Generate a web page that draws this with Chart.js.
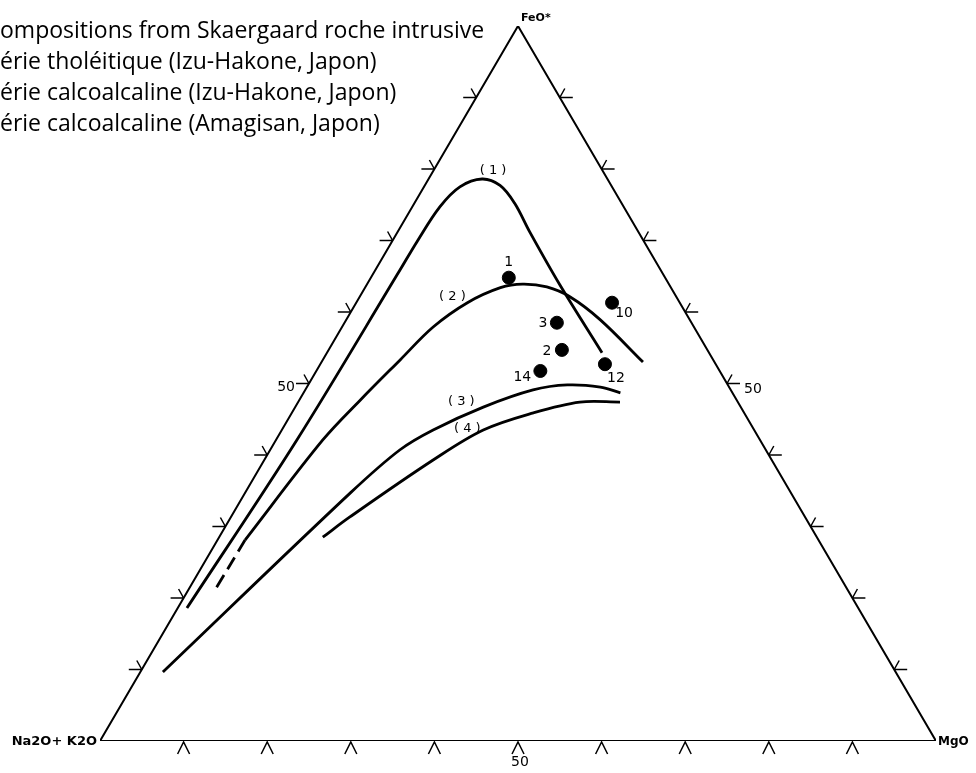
<!DOCTYPE html>
<html>
<head>
<meta charset="utf-8">
<title>AFM diagram</title>
<script src="https://cdn.jsdelivr.net/npm/chart.js@4.4.1/dist/chart.umd.min.js"></script>
<style>
  html, body { margin: 0; padding: 0; background: #fff; }
  canvas { display: block; }
</style>
</head>
<body>
<canvas id="afm" width="976" height="773"></canvas>
<script>
// AFM ternary diagram: A = Na2O+K2O (left), F = FeO* (top), M = MgO (right)
// every composition is stored as FeO* % and MgO % (alkalis = the rest)

const legendLines = [
  'Compositions from Skaergaard roche intrusive',
  'Série tholéitique (Izu-Hakone, Japon)',
  'Série calcoalcaline (Izu-Hakone, Japon)',
  'Série calcoalcaline (Amagisan, Japon)'
];

// triangle corners
const cornerFeO = [0, 100, 0, 0];
const cornerMgO = [0, 0, 100, 0];

// graduations along each side (%)
const tickValues = [10, 20, 30, 40, 50, 60, 70, 80, 90];

// (1) Skaergaard trend
const curve1FeO = [18.6, 42.1, 65.9, 69.8, 74.7, 77.5, 78.6, 77.7, 75.2, 71.2, 63.8, 54.3];
const curve1MgO = [1.1, 2.5, 2.95, 3.0, 3.3, 4.3, 6.4, 9.0, 12.0, 15.8, 23.1, 32.9];

// (2) tholeiitic series, Izu-Hakone (dashed start, then solid)
const curve2DashFeO = [21.5, 28.1];
const curve2DashMgO = [3.2, 3.3];
const curve2FeO = [28.1, 42.1, 47.7, 53.3, 57.9, 61.3, 63.4, 63.9, 63.5, 62.1, 58.9, 53.0];
const curve2MgO = [3.3, 5.6, 7.3, 9.25, 10.9, 13.3, 16.2, 18.6, 21.7, 25.2, 30.4, 38.45];

// (3) calc-alkaline series, Izu-Hakone
const curve3FeO = [9.65, 34.7, 40.7, 43.5, 46.7, 49.1, 49.8, 49.5, 48.7];
const curve3MgO = [2.7, 12.6, 15.5, 18.1, 22.5, 27.25, 31.0, 35.1, 37.9];

// (4) calc-alkaline series, Amagisan
const curve4FeO = [28.5, 31.3, 39.3, 43.5, 45.9, 47.4, 47.4];
const curve4MgO = [12.4, 14.2, 20.2, 24.1, 28.9, 33.7, 38.5];

// analysed samples
const sampleLabels = ['1', '10', '3', '2', '14', '12'];
const sampleFeO = [64.8, 61.3, 58.5, 54.7, 51.75, 52.7];
const sampleMgO = [16.5, 30.6, 25.4, 27.9, 26.8, 34.05];

// ternary -> cartesian (x along the base, y = FeO height)
function toXY(feo, mgo) {
  return { x: mgo + feo / 2, y: feo };
}

function buildPoints(feoList, mgoList) {
  return feoList.map((f, i) => toXY(f, mgoList[i]));
}

function curveDataset(feoList, mgoList, dash) {
  return {
    type: 'line',
    data: buildPoints(feoList, mgoList),
    showLine: true,
    borderColor: '#000',
    borderWidth: 2.8,
    borderDash: dash || [],
    pointRadius: 0,
    tension: 0.35,
    fill: false
  };
}

// labels placed next to the curves / samples (pixel offsets)
const curveTags = [
  { text: '( 1 )', feo: 78.6, mgo: 6.4, dx: 11, dy: -8 },
  { text: '( 2 )', feo: 61.3, mgo: 13.3, dx: -15, dy: -6 },
  { text: '( 3 )', feo: 46.7, mgo: 22.5, dx: -22, dy: -5 },
  { text: '( 4 )', feo: 43.5, mgo: 24.1, dx: -16, dy: -1 }
];
const sampleTagOffsets = [[0, -15], [12, 11], [-14, 1], [-15, 1], [-18, 6], [11, 14]];

const decorations = {
  id: 'decorations',
  afterDatasetsDraw(chart) {
    const ctx = chart.ctx;
    const sx = chart.scales.x;
    const sy = chart.scales.y;
    const px = (p) => [sx.getPixelForValue(p.x), sy.getPixelForValue(p.y)];

    ctx.save();
    ctx.strokeStyle = '#000';
    ctx.lineWidth = 1.5;

    tickValues.forEach(v => {
      // left side (A-F)
      let [x, y] = px(toXY(v, 0));
      ctx.beginPath();
      ctx.moveTo(x - 13, y); ctx.lineTo(x, y);
      ctx.moveTo(x - 5, y - 9); ctx.lineTo(x, y);
      ctx.stroke();
      // right side (F-M)
      [x, y] = px(toXY(v, 100 - v));
      ctx.beginPath();
      ctx.moveTo(x + 13, y); ctx.lineTo(x, y);
      ctx.moveTo(x + 5, y - 9); ctx.lineTo(x, y);
      ctx.stroke();
      // base (A-M)
      [x, y] = px(toXY(0, v));
      ctx.beginPath();
      ctx.moveTo(x - 6, y + 13); ctx.lineTo(x, y + 1); ctx.lineTo(x + 6, y + 13);
      ctx.stroke();
    });

    ctx.fillStyle = '#000';
    ctx.textBaseline = 'middle';

    // corner names
    ctx.font = 'bold 11px "DejaVu Sans"';
    let [x, y] = px(toXY(100, 0));
    ctx.textAlign = 'left';
    ctx.fillText('FeO*', x + 3, y - 8);
    ctx.font = 'bold 13px "DejaVu Sans"';
    [x, y] = px(toXY(0, 0));
    ctx.textAlign = 'right';
    ctx.fillText('Na2O+ K2O', x - 3, y + 1);
    ctx.font = 'bold 12px "DejaVu Sans"';
    [x, y] = px(toXY(0, 100));
    ctx.textAlign = 'left';
    ctx.fillText('MgO', x + 2, y + 1);

    // 50 % marks
    ctx.font = '14px "DejaVu Sans"';
    [x, y] = px(toXY(50, 0));
    ctx.textAlign = 'right';
    ctx.fillText('50', x - 14, y + 4);
    [x, y] = px(toXY(50, 50));
    ctx.textAlign = 'left';
    ctx.fillText('50', x + 17, y + 6);
    [x, y] = px(toXY(0, 50));
    ctx.textAlign = 'center';
    ctx.fillText('50', x + 2, y + 21);

    // curve numbers
    ctx.font = '13px "DejaVu Sans"';
    ctx.textAlign = 'center';
    curveTags.forEach(t => {
      const [cx, cy] = px(toXY(t.feo, t.mgo));
      ctx.fillText(t.text, cx + t.dx, cy + t.dy);
    });

    // sample numbers
    ctx.font = '14px "DejaVu Sans"';
    sampleLabels.forEach((lab, i) => {
      const [cx, cy] = px(toXY(sampleFeO[i], sampleMgO[i]));
      ctx.fillText(lab, cx + sampleTagOffsets[i][0], cy + sampleTagOffsets[i][1]);
    });

    // legend, first letters run off the left edge like the scan
    ctx.font = '23px "Open Sans"';
    ctx.textAlign = 'left';
    ctx.textBaseline = 'alphabetic';
    legendLines.forEach((line, i) => {
      const cut = ctx.measureText(line.charAt(0)).width;
      ctx.fillText(line, -cut, 38 + i * 31);
    });
    ctx.restore();
  }
};

const datasets = [
  {
    type: 'line',
    data: buildPoints(cornerFeO, cornerMgO),
    showLine: true,
    borderColor: '#000',
    borderWidth: 2,
    pointRadius: 0,
    tension: 0,
    fill: false
  },
  curveDataset(curve1FeO, curve1MgO),
  curveDataset(curve2DashFeO, curve2DashMgO, [14, 7]),
  curveDataset(curve2FeO, curve2MgO),
  curveDataset(curve3FeO, curve3MgO),
  curveDataset(curve4FeO, curve4MgO),
  {
    type: 'scatter',
    data: buildPoints(sampleFeO, sampleMgO),
    backgroundColor: '#000',
    borderColor: '#000',
    pointRadius: 6.5,
    pointStyle: 'circle'
  }
];

new Chart(document.getElementById('afm'), {
  type: 'scatter',
  data: { datasets: datasets },
  options: {
    responsive: false,
    animation: false,
    devicePixelRatio: 1,
    layout: { padding: { left: 100, right: 40, top: 26, bottom: 32 } },
    plugins: {
      legend: { display: false },
      tooltip: { enabled: false }
    },
    scales: {
      x: { type: 'linear', min: 0, max: 100, display: false },
      y: { type: 'linear', min: 0, max: 100, display: false }
    }
  },
  plugins: [decorations]
});
</script>
</body>
</html>
